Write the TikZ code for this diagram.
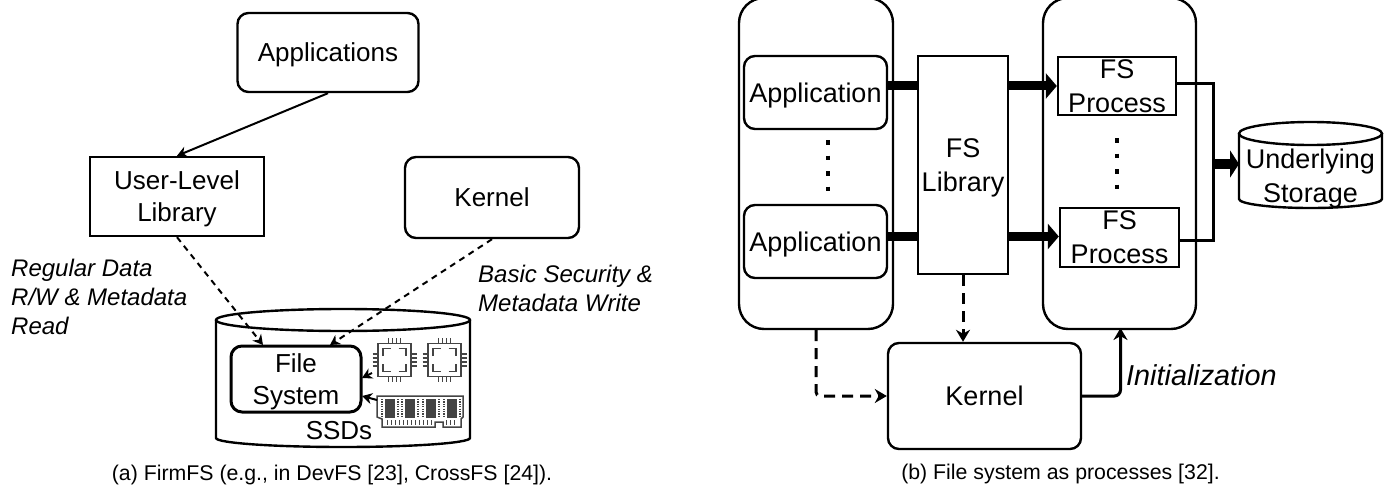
\documentclass[tikz,border=0pt]{standalone}
\usepackage{fontspec}
\setmainfont{Liberation Sans}
\usetikzlibrary{arrows.meta}
\definecolor{icongray}{HTML}{444444}
\newcommand{\bigtext}{\fontsize{26}{32}\selectfont}
\newcommand{\bigrtext}{\fontsize{27}{34}\selectfont}
\tikzset{
  plainbox/.style={draw,line width=2.4pt,inner sep=0pt,align=center,text depth=0pt},
  roundbox/.style={plainbox,rounded corners=11pt},
  plain/.style={font=\bigtext},
  rfont/.style={font=\bigrtext},
  thinline/.style={line width=2pt,-{Stealth[length=10pt,width=11pt]}},
  thindash/.style={thinline,dash pattern=on 6pt off 5pt},
  thickdash/.style={line width=3pt,dash pattern=on 11pt off 7pt,-{Stealth[length=12pt,width=14pt]}},
  fat/.style={line width=9pt,-{Triangle[length=11pt,width=25pt]}},
  note/.style={font=\fontsize{24}{29}\selectfont\itshape,align=left,anchor=west,inner sep=0pt},
  captiontext/.style={font=\fontsize{21.3}{25}\selectfont,inner sep=0pt},
  dots/.style={line width=4.5pt,dash pattern=on 4.5pt off 11pt},
  drum/.style={line width=2.4pt},
  chip/.pic={
    \draw [icongray,line width=1.5pt] (-16.5,-16.5) rectangle (16.5,16.5);
    \foreach \i in {-6,-2,2,6} {
      \draw [icongray,line width=1.2pt] (\i,-22) -- (\i,-17) (\i,17) -- (\i,22);
      \draw [icongray,line width=1.2pt] (-22,\i) -- (-17,\i) (17,\i) -- (22,\i);
    }
    \draw [icongray,line width=1.5pt] (-11.5,-4) -- (-11.5,-11.5) -- (-4,-11.5);
    \draw [icongray,line width=1.5pt] (4,-11.5) -- (11.5,-11.5) -- (11.5,-4);
    \draw [icongray,line width=1.5pt] (-11.5,4) -- (-11.5,11.5) -- (-4,11.5);
    \draw [icongray,line width=1.5pt] (4,11.5) -- (11.5,11.5) -- (11.5,4);
  }
}
\begin{document}
\begin{tikzpicture}[x=1pt,y=-1pt]
  \useasboundingbox (0,0) rectangle (1385,487);
  %FirmFS
  \node [roundbox,plain,minimum width=181,minimum height=79] (apps) at (328,52.5) {Applications};
  \node [plainbox,plain,minimum width=174,minimum height=79] (lib) at (177,196.5) {User-Level\\Library};
  \node [roundbox,plain,minimum width=174,minimum height=81] (kernela) at (492,197.5) {Kernel};
  \draw [drum] (343,320) ellipse [x radius=127,y radius=11];
  \draw [drum] (216,320) -- (216,438) arc [start angle=180,end angle=0,x radius=127,y radius=9] -- (470,320);
  \node [roundbox,plain,line width=3pt,minimum width=130,minimum height=66] (fs) at (296,379) {File\\System};
  \node [font=\bigtext,inner sep=0pt] (ssdtext) at (339,431) {SSDs};
  %Icons
  \pic at (394.5,360) {chip};
  \pic at (444.5,360) {chip};
  \draw [icongray,line width=1.5pt] (377,396) -- (463,396) -- (463,417) -- (461,419) -- (461,427) -- (443,427) -- (443,422) -- (435,422) -- (435,427) -- (382,427) -- (382,419) -- (377,417) -- cycle;
  \foreach \x in {385,405,426,447} {
    \fill [icongray] (\x,398.5) rectangle ++(9.5,19);
    \draw [icongray,line width=2pt,dash pattern=on 1.2pt off 1.2pt] (\x-3,399) -- (\x-3,418) (\x+12.5,399) -- (\x+12.5,418);
  }
  \foreach \x in {387,391,...,431} \draw [icongray,line width=1pt] (\x,420) -- (\x,424.5);
  \foreach \x in {446,450,454} \draw [icongray,line width=1pt] (\x,420) -- (\x,424.5);
  \coordinate (fsleft) at (263,345);
  \coordinate (fsright) at (330,345);
  \coordinate (chipout) at (372,373);
  \coordinate (chipin) at (362,378);
  \coordinate (ramout) at (377,400);
  \coordinate (ramin) at (362,396);
  \draw [thinline] (apps.south) -- (lib.north);
  \draw [thindash] (lib.south) -- (fsleft);
  \draw [thindash] (kernela.south) -- (fsright);
  \draw [thinline] (chipout) -- (chipin);
  \draw [thinline] (ramout) -- (ramin);
  \node [note] (notedata) at (11,297) {Regular Data\\R/W \& Metadata\\Read};
  \node [note] (notesec) at (478,288) {Basic Security \&\\Metadata Write};
  \node [captiontext] (capa) at (332,475) {(a) FirmFS (e.g., in DevFS [23], CrossFS [24]).};
  %File system as processes
  \node [plainbox,rounded corners=25pt,minimum width=154,minimum height=331] (appgroup) at (816,163.5) {};
  \node [plainbox,rounded corners=25pt,minimum width=153,minimum height=331] (procgroup) at (1119.5,163.5) {};
  \node [roundbox,rfont,minimum width=143,minimum height=73] (appone) at (815.5,92.5) {Application};
  \node [roundbox,rfont,minimum width=143,minimum height=73] (apptwo) at (815.5,241.5) {Application};
  \node [plainbox,rfont,minimum width=90,minimum height=218] (fslib) at (963,165) {FS\\Library};
  \node [plainbox,rfont,minimum width=118,minimum height=58] (procone) at (1117,86) {FS\\Process};
  \node [plainbox,rfont,minimum width=119,minimum height=59] (proctwo) at (1119.5,237.5) {FS\\Process};
  \draw [drum] (1310.5,133.5) ellipse [x radius=71.5,y radius=11.5];
  \draw [drum] (1239,133.5) -- (1239,199) arc [start angle=180,end angle=0,x radius=71.5,y radius=9] -- (1382,133.5);
  \node [font=\bigrtext,align=center,inner sep=0pt,text depth=0pt] (disk) at (1310.5,175.5) {Underlying\\Storage};
  \node [roundbox,rfont,minimum width=193,minimum height=106] (kernelb) at (984.5,396) {Kernel};
  %Verbindungen
  \coordinate (libone) at (918,86);
  \coordinate (libtwo) at (918,236.5);
  \coordinate (libout) at (1008,86);
  \coordinate (libouttwo) at (1008,236.5);
  \coordinate (merge) at (1213,164);
  \coordinate (diskin) at (1239,164);
  \draw [line width=9pt] (appone.east |- libone) -- (libone);
  \draw [line width=9pt] (apptwo.east |- libtwo) -- (libtwo);
  \draw [fat] (libout) -- (procone.west |- libout);
  \draw [fat] (libouttwo) -- (proctwo.west |- libouttwo);
  \draw [line width=3pt] (procone.east |- 0,84) -- (1213,84) -- (1213,240) -- (proctwo.east |- 0,240);
  \draw [line width=10pt,-{Triangle[length=9pt,width=27pt]}] (merge) -- (diskin);
  \draw [thickdash] (fslib.south) -- (fslib.south |- kernelb.north);
  \draw [thickdash,rounded corners=4pt] (appgroup.south) -- (816,396) -- (kernelb.west);
  \draw [line width=3pt,rounded corners=6pt,-{Stealth[length=12pt,width=14pt]}] (kernelb.east) -- (1120.5,396) -- (1120.5,328);
  \draw [dots] (828,140) -- (828,192);
  \draw [dots] (1117,138) -- (1117,190);
  \node [font=\fontsize{28.8}{34}\selectfont\itshape,anchor=west,inner sep=0pt] (initlabel) at (1126,375) {Initialization};
  \node [captiontext] (capb) at (1060.5,474) {(b) File system as processes [32].};
\end{tikzpicture}
\end{document}
